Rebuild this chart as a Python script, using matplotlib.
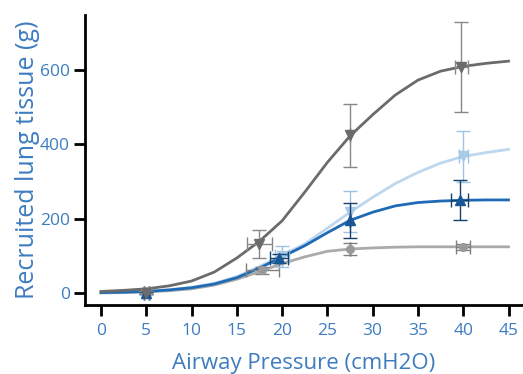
import matplotlib
matplotlib.use("Agg")
from matplotlib import pyplot as plt

plt.rcParams['font.family'] = ['Open Sans', 'DejaVu Sans']

# fitted curves
curve_x = [0, 2.5, 5, 7.5, 10, 12.5, 15, 17.5, 20, 22.5, 25, 27.5, 30, 32.5, 35, 37.5, 40, 42.5, 45]
dark_gray_curve = [5, 8, 12, 20, 33, 57, 95, 140, 195, 272, 352, 423, 480, 533, 573, 597, 610, 618, 624]
light_blue_curve = [3, 4, 6, 10, 16, 27, 45, 72, 102, 133, 175, 218, 258, 295, 325, 350, 368, 378, 387]
dark_blue_curve = [2, 3, 5, 9, 15, 25, 42, 68, 98, 128, 163, 196, 218, 235, 244, 248, 250, 251, 251]
gray_curve = [1, 2, 4, 7, 12, 22, 38, 58, 80, 98, 113, 119, 122, 124, 125, 125, 125, 125, 125]

# measured points with error bars
dark_gray_x = [5, 17.5, 27.5, 39.8]
dark_gray_y = [2, 132, 425, 608]
dark_gray_yerr = [3, 38, 85, 121]
dark_gray_xerr = [0.3, 1.4, 0, 0.7]

light_blue_x = [5, 20, 27.5, 40]
light_blue_y = [1, 100, 219, 368]
light_blue_yerr = [3, 28, 55, 68]
light_blue_xerr = [0.3, 0.8, 0, 0.5]

dark_blue_x = [5, 19.7, 27.5, 39.6]
dark_blue_y = [0, 94, 196, 250]
dark_blue_yerr = [3, 13, 46, 54]
dark_blue_xerr = [0.3, 1.0, 0, 0.9]

gray_x = [5, 17.8, 27.5, 40]
gray_y = [0, 62, 118, 125]
gray_yerr = [3, 9, 16, 8]
gray_xerr = [0.3, 1.8, 0, 0.8]

text_blue = '#3d7cc0'

fig = plt.figure(figsize=(5.23, 3.74), dpi=100)
ax = fig.add_axes([85 / 523, 69 / 374, 438 / 523, 290 / 374])

ax.plot(curve_x, gray_curve, color='#aaaaaa', lw=2, zorder=2)
ax.plot(curve_x, light_blue_curve, color='#bdd7ee', lw=2, zorder=2)
ax.plot(curve_x, dark_blue_curve, color='#1f6ab5', lw=2, zorder=3)
ax.plot(curve_x, dark_gray_curve, color='#6b6b6b', lw=2, zorder=3)

ax.errorbar(gray_x, gray_y, yerr=gray_yerr, xerr=gray_xerr, fmt='o', ms=5.5,
            color='#999999', ecolor='#808080', elinewidth=1, capsize=5, zorder=4)
ax.errorbar(light_blue_x, light_blue_y, yerr=light_blue_yerr, xerr=light_blue_xerr, fmt='v', ms=7,
            color='#a9cbe6', ecolor='#9cc3e3', elinewidth=1, capsize=5, zorder=4)
ax.errorbar(dark_blue_x, dark_blue_y, yerr=dark_blue_yerr, xerr=dark_blue_xerr, fmt='^', ms=7,
            color='#1a5796', ecolor='#17406b', elinewidth=1, capsize=5, zorder=5)
ax.errorbar(dark_gray_x, dark_gray_y, yerr=dark_gray_yerr, xerr=dark_gray_xerr, fmt='v', ms=7,
            color='#6b6b6b', ecolor='#888888', elinewidth=1, capsize=5, zorder=5)

ax.set_xlim(-1.77, 46.6)
ax.set_ylim(-31.4, 748)
ax.set_xticks(range(0, 50, 5))
ax.set_yticks([0, 200, 400, 600])

for s in ['top', 'right']:
    ax.spines[s].set_visible(False)
for s in ['left', 'bottom']:
    ax.spines[s].set_linewidth(2)
ax.tick_params(axis='both', width=2, length=8, direction='out', colors='black',
               labelcolor=text_blue, labelsize=12.5)
ax.tick_params(axis='x', pad=5)
ax.tick_params(axis='y', pad=3)

ax.set_xlabel('Airway Pressure (cmH2O)', color=text_blue, fontsize=16, labelpad=10)
ax.set_ylabel('Recruited lung tissue (g)', color=text_blue, fontsize=18, labelpad=0)

fig.savefig('out.png', dpi=100)
